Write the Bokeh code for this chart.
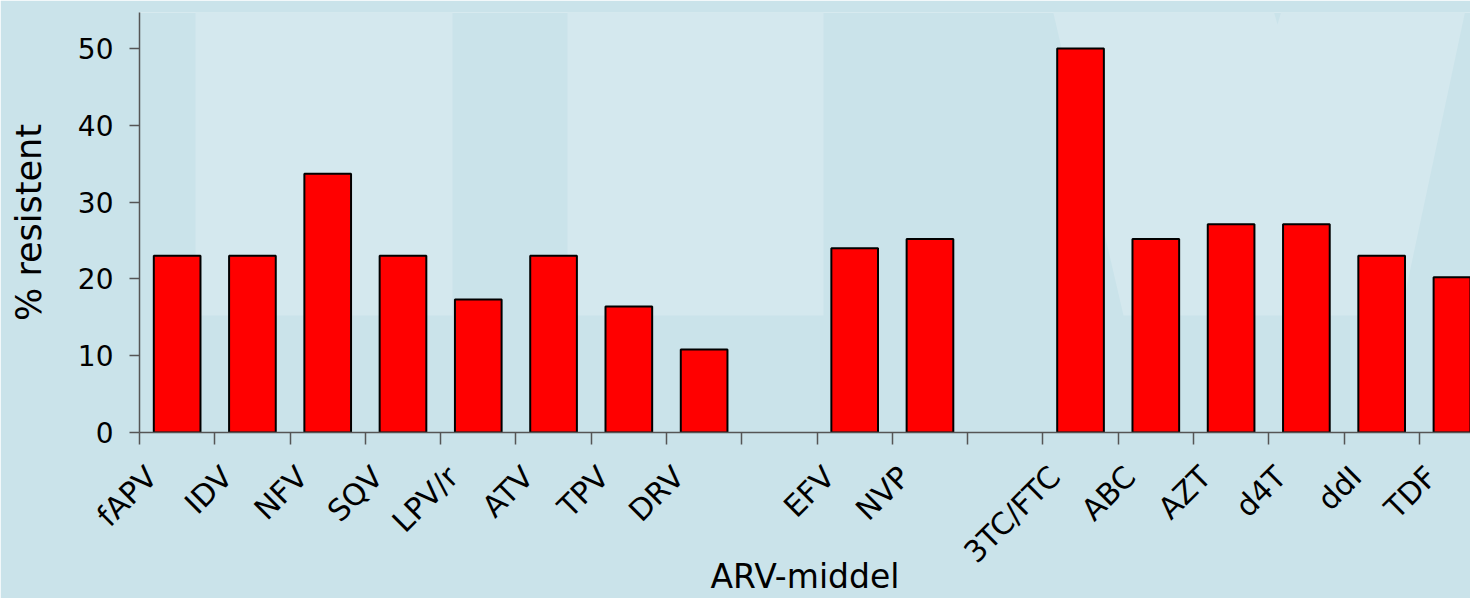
import math
from bokeh.plotting import figure
from bokeh.models import Range1d, FixedTicker, BoxAnnotation, PolyAnnotation, ColumnDataSource
from bokeh.embed import file_html
from bokeh.resources import INLINE

# ---- data ----
categories = ["fAPV", "IDV", "NFV", "SQV", "LPV/r", "ATV", "TPV", "DRV", "",
              "EFV", "NVP", "", "3TC/FTC", "ABC", "AZT", "d4T", "ddI", "TDF"]
values = [23.0, 23.0, 33.7, 23.0, 17.3, 23.0, 16.4, 10.8, None,
          24.0, 25.2, None, 50.0, 25.2, 27.1, 27.1, 23.0, 20.2]
y_ticks = [0, 10, 20, 30, 40, 50]
x_title = "ARV-middel"
y_title = "% resistent"

BASE = "#cae3ea"
LIGHT = "#d4e8ee"
FONT = "DejaVu Sans"

xs = [i + 0.5 for i, v in enumerate(values) if v is not None]
tops = [v for v in values if v is not None]
src = ColumnDataSource(dict(x=xs, top=tops))

p = figure(width=1470, height=598, output_backend="svg", toolbar_location=None,
           x_range=Range1d(0, 17.68), y_range=Range1d(0, 54.68),
           min_border_left=139, min_border_top=12, min_border_right=0,
           min_border_bottom=165,
           background_fill_color=BASE, border_fill_color=BASE,
           outline_line_color=None)
p.xgrid.visible = False
p.ygrid.visible = False

# decorative background shapes (canvas units)
for l, r in [(195, 452), (567, 823)]:
    p.add_layout(BoxAnnotation(left=l, right=r, top=0, bottom=315,
                               left_units="canvas", right_units="canvas",
                               top_units="canvas", bottom_units="canvas",
                               fill_color=LIGHT, fill_alpha=1.0, line_color=None,
                               level="underlay"))
p.add_layout(PolyAnnotation(xs=[1050, 1270, 1277, 1284, 1467, 1400, 1123],
                            ys=[0, 0, 24, 0, 0, 315, 315],
                            xs_units="canvas", ys_units="canvas",
                            fill_color=LIGHT, fill_alpha=1.0, line_color=None,
                            level="underlay"))

p.vbar(x="x", top="top", bottom=0, width=0.62, source=src,
       fill_color="#ff0000", line_color="black", line_width=2)

# x axis: boundary ticks as minor ticks, labels shifted left of centre
label_pos = [i + 0.5 - 0.34 for i, c in enumerate(categories) if c]
xa = p.xaxis[0]
xa.ticker = FixedTicker(ticks=label_pos, minor_ticks=list(range(0, len(categories) + 1)))
xa.major_label_overrides = {pos: c for pos, c in zip(label_pos, [c for c in categories if c])}
xa.major_tick_line_color = None
xa.major_tick_out = 0
xa.major_tick_in = 0
xa.minor_tick_line_color = "#555555"
xa.minor_tick_line_width = 1.5
xa.minor_tick_out = 12
xa.minor_tick_in = 0
xa.axis_line_color = "#555555"
xa.axis_line_width = 1.5
xa.major_label_orientation = math.pi / 4
xa.major_label_text_font = FONT
xa.major_label_text_font_size = "30px"
xa.major_label_text_color = "black"
xa.major_label_standoff = 27
xa.axis_label = x_title
xa.axis_label_text_font = FONT
xa.axis_label_text_font_size = "33px"
xa.axis_label_text_font_style = "normal"
xa.axis_label_text_color = "black"
xa.axis_label_standoff = -28

ya = p.yaxis[0]
ya.ticker = FixedTicker(ticks=y_ticks)
ya.minor_tick_line_color = None
ya.major_tick_line_color = "#555555"
ya.major_tick_line_width = 1.5
ya.major_tick_out = 10
ya.major_tick_in = 0
ya.axis_line_color = "#555555"
ya.axis_line_width = 1.5
ya.major_label_text_font = FONT
ya.major_label_text_font_size = "28px"
ya.major_label_text_color = "black"
ya.major_label_standoff = 16
ya.axis_label = y_title
ya.axis_label_text_font = FONT
ya.axis_label_text_font_size = "35px"
ya.axis_label_text_font_style = "normal"
ya.axis_label_text_color = "black"
ya.axis_label_standoff = 26

open("out.html", "w").write(file_html(p, INLINE))
